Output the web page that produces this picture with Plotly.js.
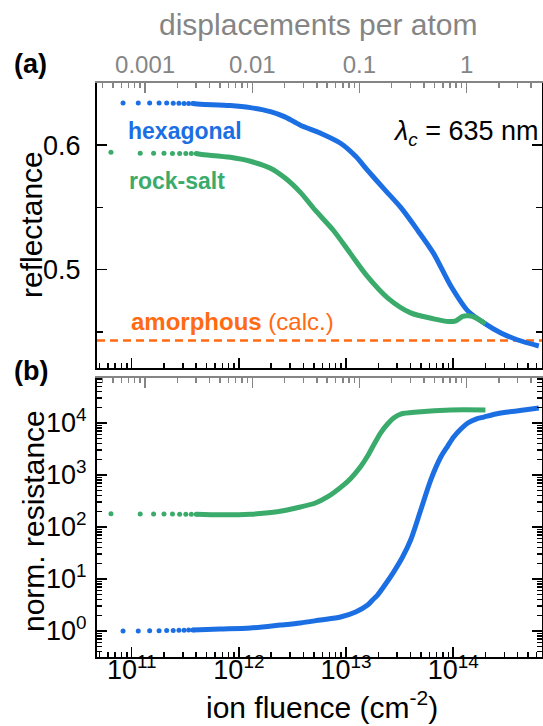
<!DOCTYPE html>
<html>
<head>
<meta charset="utf-8">
<script src="https://cdn.plot.ly/plotly-3.0.1.min.js"></script>
<style>html,body{margin:0;padding:0;background:#fff;}</style>
</head>
<body>
<div id="chart" style="width:543px;height:726px;"></div>
<script>
// ---------------- data ----------------
// (a) reflectance, hexagonal: sparse early points
const hexDotsFluence = [8.3e10, 1.15e11, 1.47e11, 1.8e11, 2.12e11, 2.44e11, 2.76e11, 3.08e11, 3.4e11, 3.72e11];
const hexDotsRefl    = [0.634, 0.634, 0.634, 0.634, 0.634, 0.6338, 0.6338, 0.6336, 0.6336, 0.6335];
// (a) reflectance, hexagonal: dense part
const hexLineFluence = [3.72e11, 4.36e11, 8.3e11, 1.28e12, 1.97e12, 2.72e12, 3.75e12, 5.77e12, 8.89e12, 1.23e13, 1.59e13, 2.24e13, 3.24e13, 4.67e13, 6.58e13, 9.48e13, 1.37e14, 1.93e14, 2.79e14, 4.02e14, 6.3e14];
const hexLineRefl    = [0.6335, 0.633, 0.6319, 0.6302, 0.627, 0.6226, 0.6161, 0.6097, 0.6016, 0.5911, 0.5798, 0.5653, 0.550, 0.5315, 0.5129, 0.4871, 0.4669, 0.4573, 0.4492, 0.4435, 0.4387];
// (a) reflectance, rock-salt
const rsDotsFluence = [6.4e10, 1.2e11, 1.6e11, 2.0e11, 2.4e11, 2.8e11, 3.2e11, 3.6e11, 4.0e11];
const rsDotsRefl    = [0.5944, 0.5936, 0.5935, 0.5935, 0.5934, 0.5934, 0.5933, 0.5933, 0.5933];
const rsLineFluence = [4.0e11, 4.36e11, 8.3e11, 1.28e12, 1.97e12, 2.72e12, 3.75e12, 5.18e12, 7.64e12, 1.1e13, 1.59e13, 2.44e13, 4.01e13, 6.58e13, 9.0e13, 1.06e14, 1.23e14, 1.40e14, 1.63e14, 2.0e14];
const rsLineRefl    = [0.5933, 0.5927, 0.5903, 0.5871, 0.5815, 0.5734, 0.5621, 0.5476, 0.5315, 0.5129, 0.4944, 0.4774, 0.4653, 0.4605, 0.4583, 0.4589, 0.4625, 0.4629, 0.4613, 0.4565];
// amorphous (calc.)
const amorphousRefl = 0.443;

// (b) normalized resistance, hexagonal
const hexDotsRes    = [1.0, 1.0, 1.01, 1.01, 1.02, 1.02, 1.03, 1.03, 1.04, 1.05];
const hexResFluence = [3.72e11, 6.7e11, 1.28e12, 2.44e12, 3.75e12, 5.77e12, 8.89e12, 1.23e13, 1.59e13, 1.77e13, 1.97e13, 2.34e13, 2.78e13, 3.37e13, 4.01e13, 4.98e13, 6.17e13, 7.66e13, 8.89e13, 1.01e14, 1.18e14, 1.37e14, 1.63e14, 1.93e14, 2.5e14, 3.24e14, 4.57e14, 6.3e14];
const hexRes        = [1.05, 1.09, 1.14, 1.30, 1.43, 1.63, 1.86, 2.32, 3.16, 3.95, 4.92, 8.0, 13.6, 26.5, 56.2, 212, 801, 2218, 3610, 5380, 7670, 1.0e4, 1.19e4, 1.30e4, 1.49e4, 1.63e4, 1.78e4, 1.94e4];
// (b) normalized resistance, rock-salt
const rsDotsRes     = [180, 178, 178, 177, 177, 176, 176, 176, 176];
const rsResFluence  = [4.0e11, 6.7e11, 1.28e12, 2.19e12, 3.75e12, 5.18e12, 6.7e12, 9.46e12, 1.1e13, 1.36e13, 1.59e13, 1.81e13, 2.1e13, 2.44e13, 2.78e13, 3.24e13, 4.67e13, 9.5e13, 2.0e14];
const rsRes         = [176, 172, 176, 194, 243, 290, 378, 640, 850, 1426, 2318, 3776, 6420, 9570, 1.25e4, 1.49e4, 1.63e4, 1.78e4, 1.78e4];

// tick labels
const fluenceTickVals = [1e11, 1e12, 1e13, 1e14];
const fluenceTickText = ['10<sup>11</sup>', '10<sup>12</sup>', '10<sup>13</sup>', '10<sup>14</sup>'];
const dpaTickVals = [0.001, 0.01, 0.1, 1];
const dpaTickText = ['0.001', '0.01', '0.1', '1'];
const reflTickVals = [0.5, 0.6];
const reflTickText = ['0.5', '0.6'];
const resTickVals = [1, 10, 100, 1000, 10000];
const resTickText = ['10<sup>0</sup>', '10<sup>1</sup>', '10<sup>2</sup>', '10<sup>3</sup>', '10<sup>4</sup>'];

// ---------------- styling ----------------
const BLUE = '#1c6fe3', GREEN = '#3aab6b', ORANGE = '#ff6a12', GRAY = '#858585';
const FONT = 'Liberation Sans, Arial, sans-serif';
const W = 543, H = 726, L = 97, R = 1, T = 83, B = 69;
const px2x = p => (p - L) / (W - L - R);
const px2y = p => (H - B - p) / (H - T - B);

const fluRange = [10.676, 14.829];
const dpaOffset = 14.125; // log10 fluence that corresponds to 1 dpa
const dpaRange = [fluRange[0] - dpaOffset, fluRange[1] - dpaOffset];

const lineStyle = c => ({color: c, width: 5, shape: 'spline', smoothing: 0.8});
const traces = [
  {x: hexLineFluence, y: hexLineRefl, xaxis: 'x2', yaxis: 'y2', mode: 'lines', line: lineStyle(BLUE)},
  {x: hexDotsFluence, y: hexDotsRefl, xaxis: 'x2', yaxis: 'y2', mode: 'markers', marker: {color: BLUE, size: 5}},
  {x: rsLineFluence, y: rsLineRefl, xaxis: 'x2', yaxis: 'y2', mode: 'lines', line: lineStyle(GREEN)},
  {x: rsDotsFluence, y: rsDotsRefl, xaxis: 'x2', yaxis: 'y2', mode: 'markers', marker: {color: GREEN, size: 5}},
  {x: hexResFluence, y: hexRes, xaxis: 'x', yaxis: 'y', mode: 'lines', line: lineStyle(BLUE)},
  {x: hexDotsFluence, y: hexDotsRes, xaxis: 'x', yaxis: 'y', mode: 'markers', marker: {color: BLUE, size: 5}},
  {x: rsResFluence, y: rsRes, xaxis: 'x', yaxis: 'y', mode: 'lines', line: lineStyle(GREEN)},
  {x: rsDotsFluence, y: rsDotsRes, xaxis: 'x', yaxis: 'y', mode: 'markers', marker: {color: GREEN, size: 5}},
  // invisible carriers so that the top (dpa) axes get drawn
  {x: dpaTickVals, y: dpaTickVals.map(() => amorphousRefl), xaxis: 'x3', yaxis: 'y2', mode: 'markers', marker: {opacity: 0}, hoverinfo: 'skip'},
  {x: dpaTickVals, y: dpaTickVals.map(() => 1), xaxis: 'x4', yaxis: 'y', mode: 'markers', marker: {opacity: 0}, hoverinfo: 'skip'}
];

const baseX = {
  type: 'log', range: fluRange, domain: [0, 1], autorange: false, showgrid: false, zeroline: false,
  showline: true, linecolor: '#000', linewidth: 2,
  ticks: 'inside', ticklen: 10, tickwidth: 1.5, tickcolor: '#000',
  tickmode: 'array', tickvals: fluenceTickVals, ticktext: fluenceTickText,
  tickfont: {family: FONT, size: 27, color: '#000'},
  minor: {ticks: 'inside', ticklen: 5, tickwidth: 1.5, tickcolor: '#000', dtick: 'D1', showgrid: false}
};
const baseDpa = {
  type: 'log', range: dpaRange, domain: [0, 1], autorange: false, side: 'top', showgrid: false, zeroline: false,
  showline: true, linecolor: GRAY, linewidth: 2,
  ticks: 'inside', ticklen: 10, tickwidth: 1.5, tickcolor: GRAY,
  tickmode: 'array', tickvals: dpaTickVals, ticktext: dpaTickText,
  tickfont: {family: FONT, size: 24, color: GRAY},
  minor: {ticks: 'inside', ticklen: 5, tickwidth: 1.5, tickcolor: GRAY, dtick: 'D1', showgrid: false}
};

const layout = {
  width: W, height: H,
  margin: {l: L, r: R, t: T, b: B, pad: 0},
  paper_bgcolor: '#fff', plot_bgcolor: '#fff',
  showlegend: false,
  font: {family: FONT, color: '#000'},
  xaxis: Object.assign({}, baseX, {anchor: 'y', ticklabelstandoff: -12}),
  xaxis2: Object.assign({}, baseX, {anchor: 'y2', showticklabels: false}),
  xaxis3: Object.assign({}, baseDpa, {anchor: 'y2', overlaying: 'x2', ticklabelstandoff: -2}),
  xaxis4: Object.assign({}, baseDpa, {anchor: 'y', overlaying: 'x', showticklabels: false}),
  yaxis: {
    type: 'log', range: [-0.5, 4.865], domain: [0, 0.486], anchor: 'x', autorange: false,
    showgrid: false, zeroline: false, showline: true, linecolor: '#000', linewidth: 2, mirror: 'ticks',
    ticks: 'inside', ticklen: 10, tickwidth: 1.5, tickcolor: '#000',
    tickmode: 'array', tickvals: resTickVals, ticktext: resTickText,
    tickfont: {family: FONT, size: 27, color: '#000'}, ticklabelstandoff: 3,
    minor: {ticks: 'inside', ticklen: 5, tickwidth: 1.5, tickcolor: '#000', dtick: 'D1', showgrid: false}
  },
  yaxis2: {
    type: 'linear', range: [0.421, 0.65], domain: [0.5035, 1], anchor: 'x2', autorange: false,
    showgrid: false, zeroline: false, showline: true, linecolor: '#000', linewidth: 2, mirror: 'ticks',
    ticks: 'inside', ticklen: 10, tickwidth: 1.5, tickcolor: '#000',
    tickmode: 'array', tickvals: reflTickVals, ticktext: reflTickText,
    tickfont: {family: FONT, size: 27, color: '#000'}, ticklabelstandoff: 9,
    minor: {ticks: 'inside', ticklen: 6, tickwidth: 1.5, tickcolor: '#000', tick0: 0, dtick: 0.05, showgrid: false}
  },
  shapes: [{
    type: 'line', xref: 'x2 domain', x0: 0, x1: 1, yref: 'y2', y0: amorphousRefl, y1: amorphousRefl,
    line: {color: ORANGE, width: 2.5, dash: '8px,5px'}, layer: 'below'
  }],
  annotations: [
    {text: '<b>(a)</b>', x: px2x(12), y: px2y(64), xanchor: 'left', yanchor: 'middle', font: {size: 27}},
    {text: '<b>(b)</b>', x: px2x(12), y: px2y(371), xanchor: 'left', yanchor: 'middle', font: {size: 27}},
    {text: '<b>hexagonal</b>', x: px2x(126), y: px2y(131), xanchor: 'left', yanchor: 'middle', font: {size: 23, color: BLUE}},
    {text: '<b>rock-salt</b>', x: px2x(127), y: px2y(181), xanchor: 'left', yanchor: 'middle', font: {size: 23, color: GREEN}},
    {text: '<b>amorphous</b> (calc.)', x: px2x(129), y: px2y(321), xanchor: 'left', yanchor: 'middle', font: {size: 24, color: ORANGE}},
    {text: '<i>λ<sub>c</sub></i> = 635 nm', x: px2x(391), y: px2y(133), xanchor: 'left', yanchor: 'middle', font: {size: 27}},
    {text: 'displacements per atom', x: px2x(318), y: px2y(24), xanchor: 'center', yanchor: 'middle', font: {size: 30, color: GRAY}},
    {text: 'ion fluence (cm<sup>-2</sup>)', x: px2x(322), y: px2y(705), xanchor: 'center', yanchor: 'middle', font: {size: 30}},
    {text: 'reflectance', x: px2x(32), y: px2y(225), xanchor: 'center', yanchor: 'middle', textangle: -90, font: {size: 30}},
    {text: 'norm. resistance', x: px2x(33), y: px2y(521), xanchor: 'center', yanchor: 'middle', textangle: -90, font: {size: 30}}
  ].map(a => Object.assign({xref: 'paper', yref: 'paper', showarrow: false}, a, {font: Object.assign({family: FONT, color: '#000'}, a.font)}))
};

Plotly.newPlot('chart', traces, layout, {staticPlot: true, displayModeBar: false});
</script>
</body>
</html>
